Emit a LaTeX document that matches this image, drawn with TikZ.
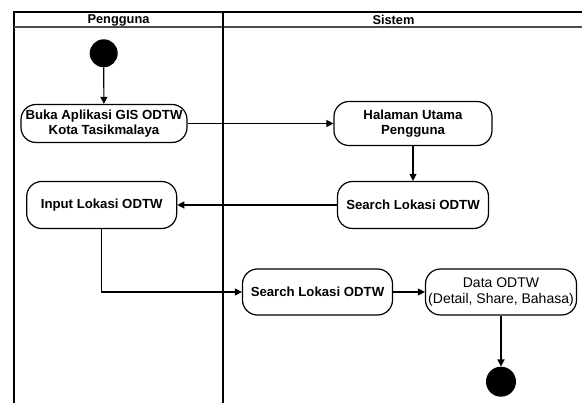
\documentclass[tikz,border=0pt]{standalone}
\usepackage{fontspec}
\setmainfont{Liberation Sans}
\usetikzlibrary{arrows.meta}
\begin{document}
\begin{tikzpicture}[x=1pt,y=-1pt,
	act/.style={draw, line width=1.2pt, rounded corners=15pt, align=center, inner sep=0pt, font=\bfseries\fontsize{13.2}{15}\selectfont},
	dot/.style={circle, fill=black, inner sep=0pt, minimum size=28pt},
	lane/.style={line width=1.5pt},
	flow/.style={line width=1.2pt, -{Triangle[length=7pt,width=7pt]}}]
	\useasboundingbox (0,0) rectangle (582,403);
	\draw[lane] (14,403) -- (14,12) -- (582,12);
	\draw[lane, black!70] (14,27) -- (582,27);
	\draw[lane] (223,12) -- (223,403);
	\node[font=\bfseries\fontsize{12.8}{15}\selectfont] (pengguna) at (118.5,20) {Pengguna};
	\node[font=\bfseries\fontsize{12.8}{15}\selectfont] (sistem) at (393.5,20) {Sistem};
	\node[dot] (mulai) at (103.7,53.3) {};
	\node[act, minimum width=166pt, minimum height=38pt] (buka) at (104,123.5) {Buka Aplikasi GIS ODTW\\Kota Tasikmalaya};
	\node[act, minimum width=158pt, minimum height=44pt] (utama) at (413,123.5) {Halaman Utama\\Pengguna};
	\node[act, minimum width=151pt, minimum height=47pt] (cari) at (413,205) {Search Lokasi ODTW};
	\node[act, minimum width=150pt, minimum height=47pt] (input) at (101.7,205) {Input Lokasi ODTW};
	\node[act, minimum width=150pt, minimum height=46pt] (cari2) at (317.5,292) {Search Lokasi ODTW};
	\node[act, minimum width=151pt, minimum height=46pt, font=\fontsize{14}{16}\selectfont] (data) at (501,292) {Data ODTW\\(Detail, Share, Bahasa)};
	\node[dot, minimum size=30pt] (selesai) at (501,381.7) {};
	\draw[flow] (mulai) -- (buka);
	\draw[flow] (buka) -- (utama);
	\draw[flow] (utama) -- (cari);
	\draw[flow] (cari) -- (input);
	\draw[flow] (input.south) |- (cari2);
	\draw[flow] (cari2) -- (data);
	\draw[flow] (data) -- (selesai);
\end{tikzpicture}
\end{document}
